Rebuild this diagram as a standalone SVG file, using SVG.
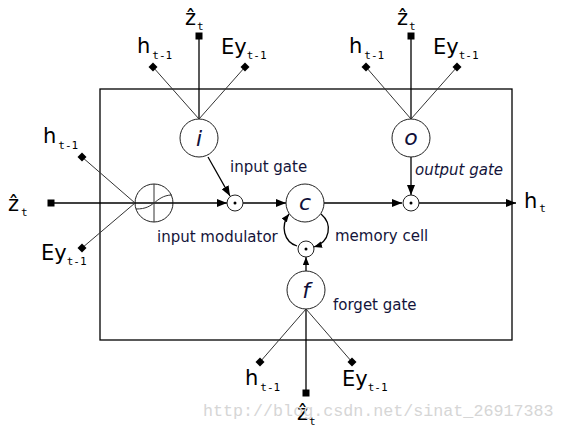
<svg xmlns="http://www.w3.org/2000/svg" width="564" height="431" viewBox="0 0 564 431">
<defs>
<style>
.box{fill:none;stroke:#000;stroke-width:1.3}
.node{fill:#fff;stroke:#222;stroke-width:1}
.in{stroke:#333;stroke-width:1;fill:none}
.main{stroke:#000;stroke-width:1.3;fill:none}
.lbl{font-family:"DejaVu Sans",sans-serif;font-size:15px;fill:#14143a}
.it{font-style:italic}
.var{font-family:"DejaVu Sans",sans-serif;font-size:21px;fill:#000}
.sub{font-family:"DejaVu Sans Mono",monospace;font-size:11px}
.sym{font-family:"DejaVu Sans",sans-serif;font-size:22px;font-style:italic;fill:#10103a;text-anchor:middle}
.wm{font-family:"Liberation Mono",monospace;font-size:16.7px;fill:#d6d6d6}
</style>
<marker id="arr" viewBox="0 0 10 8" refX="10" refY="4" markerWidth="10" markerHeight="8" markerUnits="userSpaceOnUse" orient="auto">
<path d="M0,0 L10,4 L0,8 Z" fill="#000"/>
</marker>
<marker id="arrs" viewBox="0 0 10 8" refX="10" refY="4" markerWidth="8" markerHeight="7" markerUnits="userSpaceOnUse" orient="auto">
<path d="M0,0 L10,4 L0,8 Z" fill="#000"/>
</marker>
<path id="dia" d="M0,-4.5 L4.5,0 L0,4.5 L-4.5,0 Z" fill="#000"/>
<rect id="sq" x="-3.5" y="-3.5" width="7" height="7" fill="#000"/>
</defs>
<rect width="564" height="431" fill="#fff"/>
<rect class="box" x="100" y="89" width="412" height="251"/>

<g id="connectors">
<line class="main" x1="51" y1="203" x2="135" y2="203"/>
<line class="in" x1="82" y1="157" x2="135" y2="203"/>
<line class="in" x1="82" y1="248" x2="135" y2="203"/>
<line class="main" x1="199" y1="36" x2="199" y2="119"/>
<line class="in" x1="153" y1="67" x2="199" y2="119"/>
<line class="in" x1="245" y1="67" x2="199" y2="119"/>
<line class="main" x1="411" y1="36" x2="411" y2="119"/>
<line class="in" x1="366" y1="67" x2="411" y2="119"/>
<line class="in" x1="457" y1="67" x2="411" y2="119"/>
<line class="main" x1="306" y1="393" x2="306" y2="309"/>
<line class="in" x1="260" y1="362" x2="306" y2="309"/>
<line class="in" x1="352" y1="362" x2="306" y2="309"/>
<line class="main" x1="172" y1="203" x2="227" y2="203" marker-end="url(#arr)"/>
<line class="main" x1="243" y1="203" x2="286" y2="203" marker-end="url(#arr)"/>
<line class="main" x1="324" y1="203" x2="402" y2="203" marker-end="url(#arr)"/>
<line class="main" x1="419" y1="203" x2="516" y2="203" marker-end="url(#arr)"/>
<line class="main" x1="208" y1="157" x2="230" y2="196" marker-end="url(#arr)"/>
<line class="main" x1="411" y1="157" x2="411" y2="195" marker-end="url(#arr)"/>
<line class="main" x1="306" y1="271" x2="306" y2="257" marker-end="url(#arrs)"/>
<path class="main" d="M297,246 C284,242 280,226 289,214" marker-end="url(#arrs)"/>
<path class="main" d="M321,214 C333,224 330,242 314,247" marker-end="url(#arrs)"/>
</g>

<g id="modulator">
<circle class="node" cx="154" cy="203" r="19"/>
<line class="main" x1="135" y1="203" x2="173" y2="203"/>
<line class="in" x1="154" y1="184" x2="154" y2="222"/>
<path class="in" d="M136,209 C146,209 150,206 154,203 C158,200 163,195 172,195"/>
</g>
<g id="gate-i">
<circle class="node" cx="199" cy="138" r="19"/>
<text class="sym" x="199" y="146">i</text>
</g>
<g id="prod-i">
<circle class="node" cx="235" cy="203" r="8"/>
<circle cx="235" cy="203" r="1.5" fill="#000"/>
</g>
<g id="cell-c">
<circle class="node" cx="305" cy="203" r="19"/>
<text class="sym" x="305" y="210">c</text>
</g>
<g id="prod-f">
<circle class="node" cx="306" cy="249" r="8"/>
<circle cx="306" cy="249" r="1.5" fill="#000"/>
</g>
<g id="gate-f">
<circle class="node" cx="306" cy="290" r="19"/>
<text class="sym" x="306" y="298">f</text>
</g>
<g id="gate-o">
<circle class="node" cx="411" cy="138" r="19"/>
<text class="sym" x="411" y="145">o</text>
</g>
<g id="prod-o">
<circle class="node" cx="411" cy="203" r="8"/>
<circle cx="411" cy="203" r="1.5" fill="#000"/>
</g>

<g id="terminals">
<use href="#sq" x="51" y="203"/>
<use href="#sq" x="199" y="36"/>
<use href="#sq" x="411" y="36"/>
<use href="#sq" x="306" y="393"/>
<use href="#dia" x="82" y="157"/>
<use href="#dia" x="82" y="248"/>
<use href="#dia" x="153" y="67"/>
<use href="#dia" x="245" y="67"/>
<use href="#dia" x="366" y="67"/>
<use href="#dia" x="457" y="67"/>
<use href="#dia" x="260" y="362"/>
<use href="#dia" x="352" y="362"/>
</g>

<g id="labels">
<text class="lbl" x="230" y="172">input gate</text>
<text class="lbl it" x="415" y="175">output gate</text>
<text class="lbl" x="157" y="242">input modulator</text>
<text class="lbl" x="335" y="241">memory cell</text>
<text class="lbl" x="333" y="310">forget gate</text>
</g>

<g id="variables">
<text class="var" x="8" y="211">ẑ<tspan class="sub" dx="2" dy="5">t</tspan></text>
<text class="var" x="43" y="143">h<tspan class="sub" dx="2" dy="6">t-1</tspan></text>
<text class="var" x="41" y="260">Ey<tspan class="sub" dy="5">t-1</tspan></text>
<text class="var" x="185" y="25">ẑ<tspan class="sub" dx="1" dy="5">t</tspan></text>
<text class="var" x="137" y="53">h<tspan class="sub" dx="2" dy="6">t-1</tspan></text>
<text class="var" x="221" y="54">Ey<tspan class="sub" dy="5">t-1</tspan></text>
<text class="var" x="397" y="25">ẑ<tspan class="sub" dx="1" dy="5">t</tspan></text>
<text class="var" x="349" y="53">h<tspan class="sub" dx="2" dy="6">t-1</tspan></text>
<text class="var" x="433" y="54">Ey<tspan class="sub" dy="5">t-1</tspan></text>
<text class="var" x="524" y="208">h<tspan class="sub" dx="2" dy="4">t</tspan></text>
<text class="var" x="245" y="385">h<tspan class="sub" dx="2" dy="6">t-1</tspan></text>
<text class="var" x="342" y="386">Ey<tspan class="sub" dy="5">t-1</tspan></text>
<text class="var" x="297" y="420">ẑ<tspan class="sub" dx="1" dy="5">t</tspan></text>
</g>

<text class="wm" x="203" y="416">http://blog.csdn.net/sinat_26917383</text>
</svg>
